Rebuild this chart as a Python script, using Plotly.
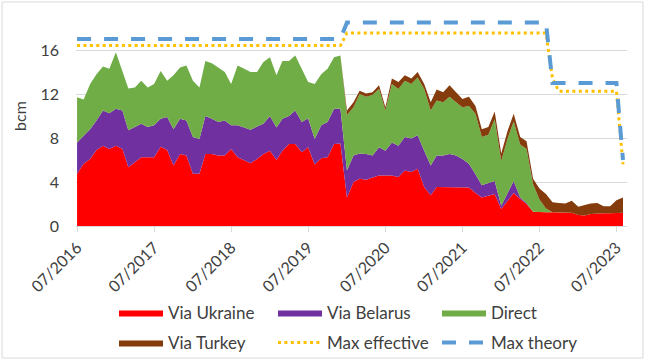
import plotly.graph_objects as go
import pandas as pd

# Monthly categories 07/2016 .. 08/2023
months = pd.date_range("2016-07-01", periods=86, freq="MS")

tick_vals = ["2016-07-01", "2017-07-01", "2018-07-01", "2019-07-01",
             "2020-07-01", "2021-07-01", "2022-07-01", "2023-07-01"]
tick_text = ["07/2016", "07/2017", "07/2018", "07/2019",
             "07/2020", "07/2021", "07/2022", "07/2023"]

via_ukraine = [4.75, 5.65, 6.1, 6.9, 7.3, 7.0, 7.3, 7.0, 5.35, 5.8, 6.25, 6.25,
               6.25, 7.2, 6.9, 5.5, 6.55, 6.4, 4.75, 4.75, 6.55, 6.55, 6.4, 6.4,
               7.0, 6.25, 5.95, 5.7, 6.1, 6.55, 6.85, 6.0, 6.85, 7.45, 7.45, 6.7,
               7.15, 5.6, 6.15, 6.25, 7.45, 7.5, 2.6, 4.0, 4.3, 4.2, 4.4, 4.6,
               4.6, 4.6, 4.45, 5.05, 4.9, 5.2, 3.55, 2.8, 3.55, 3.55, 3.55, 3.55,
               3.55, 3.5, 3.0, 2.6, 2.75, 2.9, 1.55, 2.3, 3.0, 2.45, 2.0, 1.3,
               1.25, 1.25, 1.25, 1.25, 1.25, 1.2, 1.0, 0.95, 1.1, 1.15, 1.15, 1.15,
               1.2, 1.2]

via_belarus = [2.85, 2.55, 2.7, 2.7, 3.2, 3.25, 3.35, 3.5, 3.35, 3.2, 3.05, 2.75,
               2.9, 2.55, 3.0, 3.3, 3.2, 3.2, 3.35, 3.15, 3.45, 3.2, 3.05, 3.2,
               2.15, 2.9, 3.0, 3.05, 2.95, 2.75, 3.15, 2.95, 2.9, 2.55, 3.05, 2.75,
               2.65, 2.3, 3.0, 3.2, 3.2, 3.15, 2.45, 2.4, 2.3, 2.35, 2.0, 2.55,
               2.25, 3.0, 2.85, 3.05, 3.05, 3.05, 3.3, 2.7, 2.85, 2.85, 3.0, 2.85,
               2.55, 2.15, 1.7, 1.1, 1.15, 1.2, 0.3, 0.7, 1.1, 0.15, 0.1, 0.0,
               0, 0, 0, 0, 0, 0, 0, 0, 0, 0, 0, 0,
               0, 0]

direct = [4.1, 3.3, 4.1, 4.2, 4.0, 4.05, 5.15, 3.6, 3.8, 3.6, 3.9, 3.6,
          3.75, 4.35, 3.3, 4.9, 4.65, 5.0, 5.1, 4.7, 5.0, 5.05, 4.95, 4.4,
          3.75, 5.45, 5.35, 5.25, 4.95, 5.6, 5.35, 4.75, 5.25, 5.0, 5.0, 4.85,
          3.3, 5.0, 4.65, 4.85, 4.7, 4.85, 5.05, 4.4, 5.4, 5.2, 5.5, 5.3,
          3.65, 5.3, 5.15, 5.1, 4.95, 5.25, 5.6, 5.0, 5.0, 4.85, 5.2, 4.85,
          4.7, 5.25, 5.5, 4.4, 4.4, 5.6, 4.05, 5.0, 5.4, 4.8, 4.9, 2.5,
          1.15, 0.35, 0, 0, 0, 0, 0, 0, 0, 0, 0, 0,
          0, 0]

via_turkey = [0, 0, 0, 0, 0, 0, 0, 0, 0, 0, 0, 0,
              0, 0, 0, 0, 0, 0, 0, 0, 0, 0, 0, 0,
              0, 0, 0, 0, 0, 0, 0, 0, 0, 0, 0, 0,
              0, 0, 0, 0, 0, 0, 0.4, 0.45, 0.3, 0.3, 0.25, 0.35,
              0.3, 0.5, 0.65, 0.5, 0.5, 0.5, 0.45, 0.75, 1.0, 0.9, 1.05, 0.9,
              0.75, 0.85, 0.7, 0.7, 0.7, 0.7, 0.7, 0.7, 0.7, 0.7, 0.7, 0.5,
              1.0, 1.3, 0.9, 0.85, 0.8, 1.1, 0.75, 0.95, 0.95, 0.95, 0.65, 0.65,
              1.15, 1.4]

max_effective = [16.4, 16.4, 16.4, 16.4, 16.4, 16.4, 16.4, 16.4, 16.4, 16.4, 16.4, 16.4,
                 16.4, 16.4, 16.4, 16.4, 16.4, 16.4, 16.4, 16.4, 16.4, 16.4, 16.4, 16.4,
                 16.4, 16.4, 16.4, 16.4, 16.4, 16.4, 16.4, 16.4, 16.4, 16.4, 16.4, 16.4,
                 16.4, 16.4, 16.4, 16.4, 16.4, 16.4, 17.55, 17.55, 17.55, 17.55, 17.55, 17.55,
                 17.55, 17.55, 17.55, 17.55, 17.55, 17.55, 17.55, 17.55, 17.55, 17.55, 17.55, 17.55,
                 17.55, 17.55, 17.55, 17.55, 17.55, 17.55, 17.55, 17.55, 17.55, 17.55, 17.55, 17.55,
                 17.55, 17.55, 13.4, 12.25, 12.25, 12.25, 12.25, 12.25, 12.25, 12.25, 12.25, 12.25,
                 12.25, 5.6]

max_theory = [17.0, 17.0, 17.0, 17.0, 17.0, 17.0, 17.0, 17.0, 17.0, 17.0, 17.0, 17.0,
              17.0, 17.0, 17.0, 17.0, 17.0, 17.0, 17.0, 17.0, 17.0, 17.0, 17.0, 17.0,
              17.0, 17.0, 17.0, 17.0, 17.0, 17.0, 17.0, 17.0, 17.0, 17.0, 17.0, 17.0,
              17.0, 17.0, 17.0, 17.0, 17.0, 17.0, 18.5, 18.5, 18.5, 18.5, 18.5, 18.5,
              18.5, 18.5, 18.5, 18.5, 18.5, 18.5, 18.5, 18.5, 18.5, 18.5, 18.5, 18.5,
              18.5, 18.5, 18.5, 18.5, 18.5, 18.5, 18.5, 18.5, 18.5, 18.5, 18.5, 18.5,
              18.5, 18.5, 13.0, 13.0, 13.0, 13.0, 13.0, 13.0, 13.0, 13.0, 13.0, 13.0,
              13.0, 6.0]

FONT = "Lato"
TXT = "#404040"

L, R, T, B = 76, 23, 6, 137
W, H = 650, 363
pw, ph = W - L - R, H - T - B

def px_x(p):
    return (p - L) / pw

def px_y(p):
    return (H - B - p) / ph

# legend slot for each series: (legend id, left px of swatch - 5, row centre px)
slots = {
    "Via Ukraine": ("legend", 114, 313),
    "Via Belarus": ("legend2", 273, 313),
    "Direct": ("legend3", 437, 313),
    "Via Turkey": ("legend4", 114, 343),
    "Max effective": ("legend5", 273, 343),
    "Max theory": ("legend6", 437, 343),
}

fig = go.Figure()

areas = [
    ("Via Ukraine", via_ukraine, "#FF0000"),
    ("Via Belarus", via_belarus, "#7030A0"),
    ("Direct", direct, "#70AD47"),
    ("Via Turkey", via_turkey, "#843C0C"),
]
for name, vals, col in areas:
    fig.add_trace(go.Scatter(
        x=months, y=vals, name=name, stackgroup="one", mode="lines",
        line=dict(width=0, color=col), fillcolor=col, legend=slots[name][0],
    ))

fig.add_trace(go.Scatter(
    x=months, y=max_effective, name="Max effective", mode="lines",
    line=dict(color="#FFC000", width=3, dash="3px,3.4px"),
    legend=slots["Max effective"][0],
))
fig.add_trace(go.Scatter(
    x=months, y=max_theory, name="Max theory", mode="lines",
    line=dict(color="#5B9BD5", width=4, dash="14px,13px"),
    legend=slots["Max theory"][0],
))

legends = {}
for name, (lid, lx, ly) in slots.items():
    legends[lid] = dict(
        orientation="h", xanchor="left", yanchor="middle",
        x=px_x(lx), y=px_y(ly), itemwidth=44,
        font=dict(family=FONT, size=17, color=TXT),
        bgcolor="rgba(0,0,0,0)", borderwidth=0,
    )

fig.update_layout(
    width=W, height=H,
    margin=dict(l=L, r=R, t=T, b=B, autoexpand=False),
    paper_bgcolor="white", plot_bgcolor="white",
    font=dict(family=FONT, color=TXT),
    showlegend=True,
    xaxis=dict(
        type="date", range=["2016-06-26", "2023-08-20"],
        tickvals=tick_vals, ticktext=tick_text, tickangle=-45,
        tickfont=dict(family=FONT, size=16, color=TXT),
        showgrid=False, showline=True, linecolor="#D9D9D9", linewidth=1,
        ticks="outside", ticklen=5, tickcolor="#D9D9D9", zeroline=False,
        automargin=False,
    ),
    yaxis=dict(
        range=[0, 20], tickvals=[0, 4, 8, 12, 16],
        tickfont=dict(family=FONT, size=16, color=TXT),
        showgrid=True, gridcolor="#D9D9D9", gridwidth=1, zeroline=False,
        showline=False, ticklabelstandoff=16, automargin=False,
        title=dict(text="bcm", font=dict(family=FONT, size=16, color=TXT), standoff=9),
    ),
    **legends,
)

fig.add_shape(type="rect", xref="paper", yref="paper",
              x0=px_x(2), x1=px_x(643), y0=px_y(358), y1=px_y(2),
              line=dict(color="#D9D9D9", width=1), fillcolor="rgba(0,0,0,0)",
              layer="below")

fig.write_html("out.html", config={"displayModeBar": False},
               post_script="document.body.style.margin='0';document.body.style.padding='0';")
